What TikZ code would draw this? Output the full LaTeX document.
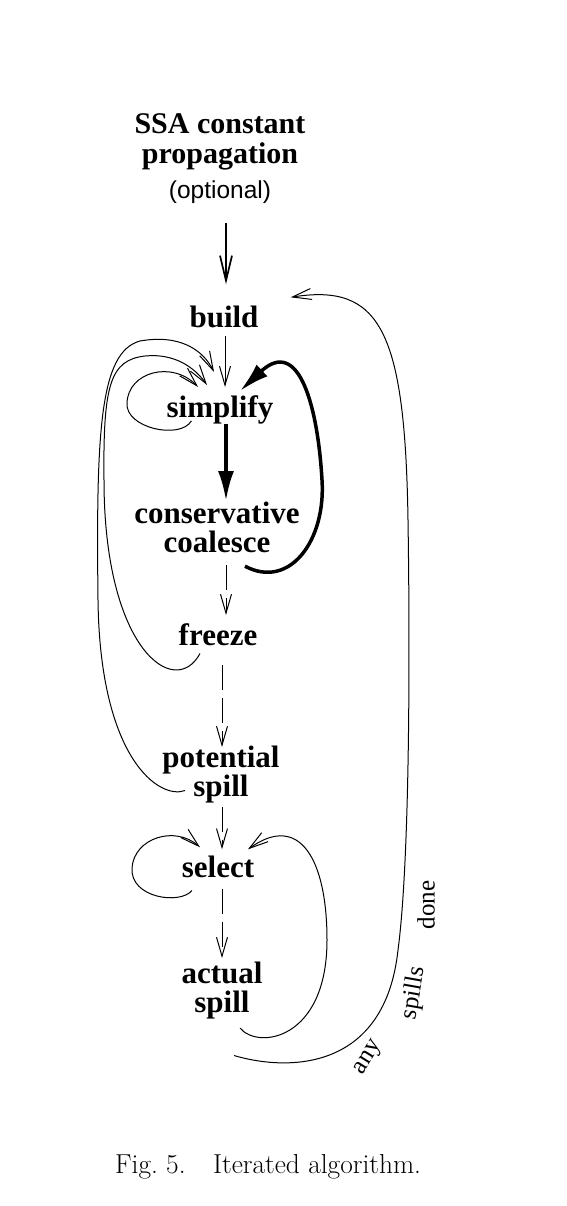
\documentclass[tikz,border=0pt]{standalone}
\usepackage{fontspec}
\newfontfamily\libserif{Liberation Serif}
\newfontfamily\libsans{Liberation Sans}
\usetikzlibrary{arrows.meta,calc}
\tikzset{
  lbl/.style={font=\libserif\bfseries\fontsize{31}{29}\selectfont, inner sep=0pt},
  mlbl/.style={lbl, align=center},
  thinarr/.style={line width=1pt, -{Straight Barb[length=19pt,width=11pt]}},
  dasharr/.style={thinarr, dash pattern=on 25pt off 8pt},
  medarr/.style={line width=1.7pt, -{Straight Barb[length=25pt,width=12pt]}},
  boldarr/.style={line width=3.5pt, -{Latex[length=30pt,width=16pt]}},
  edgelbl/.style={font=\libserif\fontsize{25}{25}\selectfont, inner sep=0pt},
}
\begin{document}
\begin{tikzpicture}[x=1pt,y=-1pt]
\useasboundingbox[fill=white] (0,0) rectangle (566,1206);

% nodes
\node[mlbl, anchor=north, font=\libserif\bfseries\fontsize{30}{30}\selectfont] (ssa) at (220,113)
  {SSA constant\\propagation\\[5pt]{\libsans\mdseries\fontsize{24.5}{29}\selectfont (optional)}};
\node[lbl, anchor=base] (build) at (224,327) {build};
\node[lbl, anchor=base] (simp) at (220,417) {simplify};
\node[mlbl, anchor=north] (coal) at (217,502) {conservative\\coalesce};
\node[lbl, anchor=base] (frz) at (218,645) {freeze};
\node[mlbl, anchor=north] (pot) at (221,746) {potential\\spill};
\node[lbl, anchor=base] (sel) at (218,877) {select};
\node[mlbl, anchor=north] (act) at (222,962) {actual\\spill};

% straight connectors
\draw[medarr] ($(ssa.south)+(6,20)$) -- ($(build.north)+(2,-21)$);
\draw[thinarr] ($(build.south)+(1,8)$) -- ($(simp.north)+(5,-8)$);
\draw[boldarr] ($(simp.south)+(6,0)$) -- ($(coal.north)+(9,-1)$);
\draw[dasharr] ($(coal.south)+(9,12)$) -- ($(frz.north)+(8,-8)$);
\draw[dasharr] ($(frz.south)+(4,20)$) -- ($(pot.north)+(1,1)$);
\draw[dasharr] ($(pot.south)+(1,3)$) -- ($(sel.north)+(4,-6)$);
\draw[dasharr] ($(sel.south)+(4,11)$) -- ($(act.north)+(0,-4)$);

% simplify self loop
\draw[thinarr] ($(simp.south west)+(25,-3)$)
  .. controls (180,440) and (125,428) .. (127,403)
  .. controls (128,372) and (172,360) .. ($(simp.north)+(-22,-8)$);
% freeze -> simplify
\draw[thinarr] ($(frz.south)+(-18,8)$)
  .. controls (175,700) and (104,650) .. (104,480)
  .. controls (103,385) and (110,360) .. (145,356)
  .. controls (175,353) and (195,368) .. ($(simp.north)+(-13,-10)$);
% potential spill -> simplify
\draw[thinarr] ($(pot.south)+(-36,-13)$)
  .. controls (160,800) and (100,760) .. (98,600)
  .. controls (96,430) and (100,352) .. (140,341)
  .. controls (180,334) and (203,350) .. ($(simp.north)+(-6,-23)$);
% coalesce -> simplify (bold)
\draw[boldarr] ($(coal.south)+(28,13)$)
  .. controls (290,590) and (326,540) .. (322,480)
  .. controls (318,410) and (300,335) .. ($(simp.north)+(20,-4)$);
% select self loop
\draw[thinarr] ($(sel.south)+(-26,13)$)
  .. controls (180,905) and (130,898) .. (132,868)
  .. controls (134,838) and (175,825) .. ($(sel.north)+(-18,-8)$);
% actual spill -> select
\draw[thinarr] ($(act.south)+(18,8.5)$)
  .. controls (258,1050) and (327,1040) .. (327,940)
  .. controls (327,860) and (300,812) .. ($(sel.north)+(30,-6)$);
% actual spill -> build (any spills done)
\draw[thinarr] ($(act.south)+(12,36)$)
  .. controls (290,1072) and (385,1070) .. (398,950)
  .. controls (410,860) and (410,650) .. (408,520)
  .. controls (405,330) and (380,283) .. ($(build.north east)+(32,-8)$);

\node[edgelbl, rotate=58] (lany) at (369,1058) {any};
\node[edgelbl, rotate=80] (lspills) at (414,993) {spills};
\node[edgelbl, rotate=90] (ldone) at (426,905) {done};

% caption
\node[anchor=base west, inner sep=0pt, font=\fontsize{27.4}{32}\selectfont] (cap) at (115,1173)
  {Fig.~5.\quad Iterated algorithm.};
\end{tikzpicture}
\end{document}
